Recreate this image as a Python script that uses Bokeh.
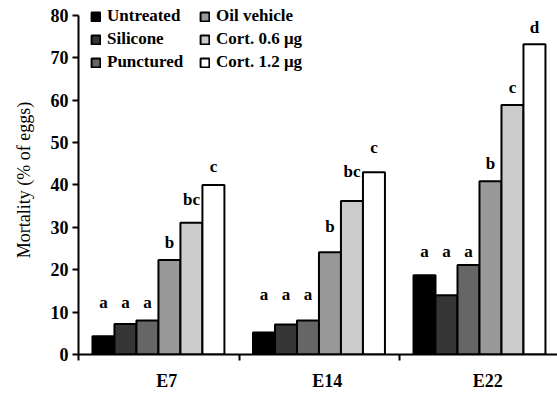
from bokeh.plotting import figure
from bokeh.models import Range1d, FixedTicker, Legend, LegendItem, ColumnDataSource
from bokeh.core.properties import value
from bokeh.embed import file_html
from bokeh.resources import INLINE

groups = ["E7", "E14", "E22"]
series = ["Untreated", "Silicone", "Punctured", "Oil vehicle", "Cort. 0.6 \u03bcg", "Cort. 1.2 \u03bcg"]
colors = ["#000000", "#363636", "#666666", "#999999", "#cccccc", "#ffffff"]

untreated = [4.3, 5.2, 18.7]
silicone = [7.2, 7.1, 14.0]
punctured = [8.0, 8.0, 21.1]
oil_vehicle = [22.3, 24.1, 40.9]
cort_06 = [31.1, 36.2, 58.9]
cort_12 = [40.0, 43.0, 73.2]
values = [untreated, silicone, punctured, oil_vehicle, cort_06, cort_12]

letters_e7 = ["a", "a", "a", "b", "bc", "c"]
letters_e14 = ["a", "a", "a", "b", "bc", "c"]
letters_e22 = ["a", "a", "a", "b", "c", "d"]
letter_y_e7 = [12.3, 12.3, 12.3, 26.5, 36.6, 44.4]
letter_y_e14 = [14.2, 14.2, 14.2, 30.3, 43.2, 48.8]
letter_y_e22 = [24.3, 24.3, 24.3, 45.0, 63.1, 77.2]
letters = [letters_e7, letters_e14, letters_e22]
letter_ys = [letter_y_e7, letter_y_e14, letter_y_e22]

FONT = "'Liberation Serif', 'Times New Roman', serif"
BAR_W = 0.137
START = 0.087
LABEL_POS = 0.55

p = figure(width=557, height=393, output_backend="svg", toolbar_location=None,
           x_range=Range1d(0, 2.984), y_range=Range1d(0, 82.35),
           min_border_left=78, min_border_right=0, min_border_top=5, min_border_bottom=38)
p.outline_line_color = None
p.xgrid.visible = False
p.ygrid.visible = False

renderers = []
for k, (name, col, vals) in enumerate(zip(series, colors, values)):
    xs = [i + START + (k + 0.5) * BAR_W for i in range(len(groups))]
    src = ColumnDataSource(dict(x=xs, top=vals))
    r = p.vbar(x="x", top="top", width=BAR_W, bottom=0, source=src,
               fill_color=col, line_color="black", line_width=2)
    renderers.append(r)

# significance letters
lx, ly, lt = [], [], []
for i in range(len(groups)):
    for k in range(len(series)):
        lx.append(i + START + (k + 0.5) * BAR_W)
        ly.append(letter_ys[i][k])
        lt.append(letters[i][k])
p.text(x=lx, y=ly, text=lt, text_font=value(FONT), text_font_style="bold",
       text_font_size="17px", text_align="center", text_baseline="middle", text_color="black")

# axes
yax = p.yaxis[0]
yax.ticker = FixedTicker(ticks=[0, 10, 20, 30, 40, 50, 60, 70, 80])
yax.bounds = (0, 80)
yax.axis_line_width = 2
yax.major_tick_line_width = 2
yax.major_tick_out = 6
yax.major_tick_in = 0
yax.minor_tick_line_color = None
yax.major_label_text_font = FONT
yax.major_label_text_font_style = "bold"
yax.major_label_text_font_size = "18px"
yax.major_label_text_color = "black"
yax.major_label_standoff = 4
yax.axis_label = "Mortality (% of eggs)"
yax.axis_label_text_font = FONT
yax.axis_label_text_font_style = "normal"
yax.axis_label_text_font_size = "18px"
yax.axis_label_text_color = "black"
yax.axis_label_standoff = 14

xax = p.xaxis[0]
label_ticks = [i + LABEL_POS for i in range(len(groups))]
xax.ticker = FixedTicker(ticks=label_ticks, minor_ticks=[0, 1, 2, 3])
xax.major_label_overrides = {t: g for t, g in zip(label_ticks, groups)}
xax.axis_line_width = 2
xax.major_tick_line_color = None
xax.major_tick_out = 0
xax.major_tick_in = 0
xax.minor_tick_line_width = 2
xax.minor_tick_out = 6
xax.minor_tick_in = 0
xax.major_label_text_font = FONT
xax.major_label_text_font_style = "bold"
xax.major_label_text_font_size = "18px"
xax.major_label_text_color = "black"
xax.major_label_standoff = 10

def make_legend(items, loc):
    lg = Legend(items=items, location=loc, orientation="vertical",
                padding=0, margin=0, spacing=3, border_line_color=None,
                background_fill_alpha=0, glyph_width=11, glyph_height=11,
                label_height=18, label_standoff=6,
                label_text_font=FONT, label_text_font_style="bold",
                label_text_font_size="17px", label_text_color="black")
    return lg

items1 = [LegendItem(label=series[k], renderers=[renderers[k]]) for k in range(3)]
items2 = [LegendItem(label=series[k], renderers=[renderers[k]]) for k in range(3, 6)]
p.add_layout(make_legend(items1, (12, 282)))
p.add_layout(make_legend(items2, (121, 282)))

open("out.html", "w").write(file_html(p, INLINE))
